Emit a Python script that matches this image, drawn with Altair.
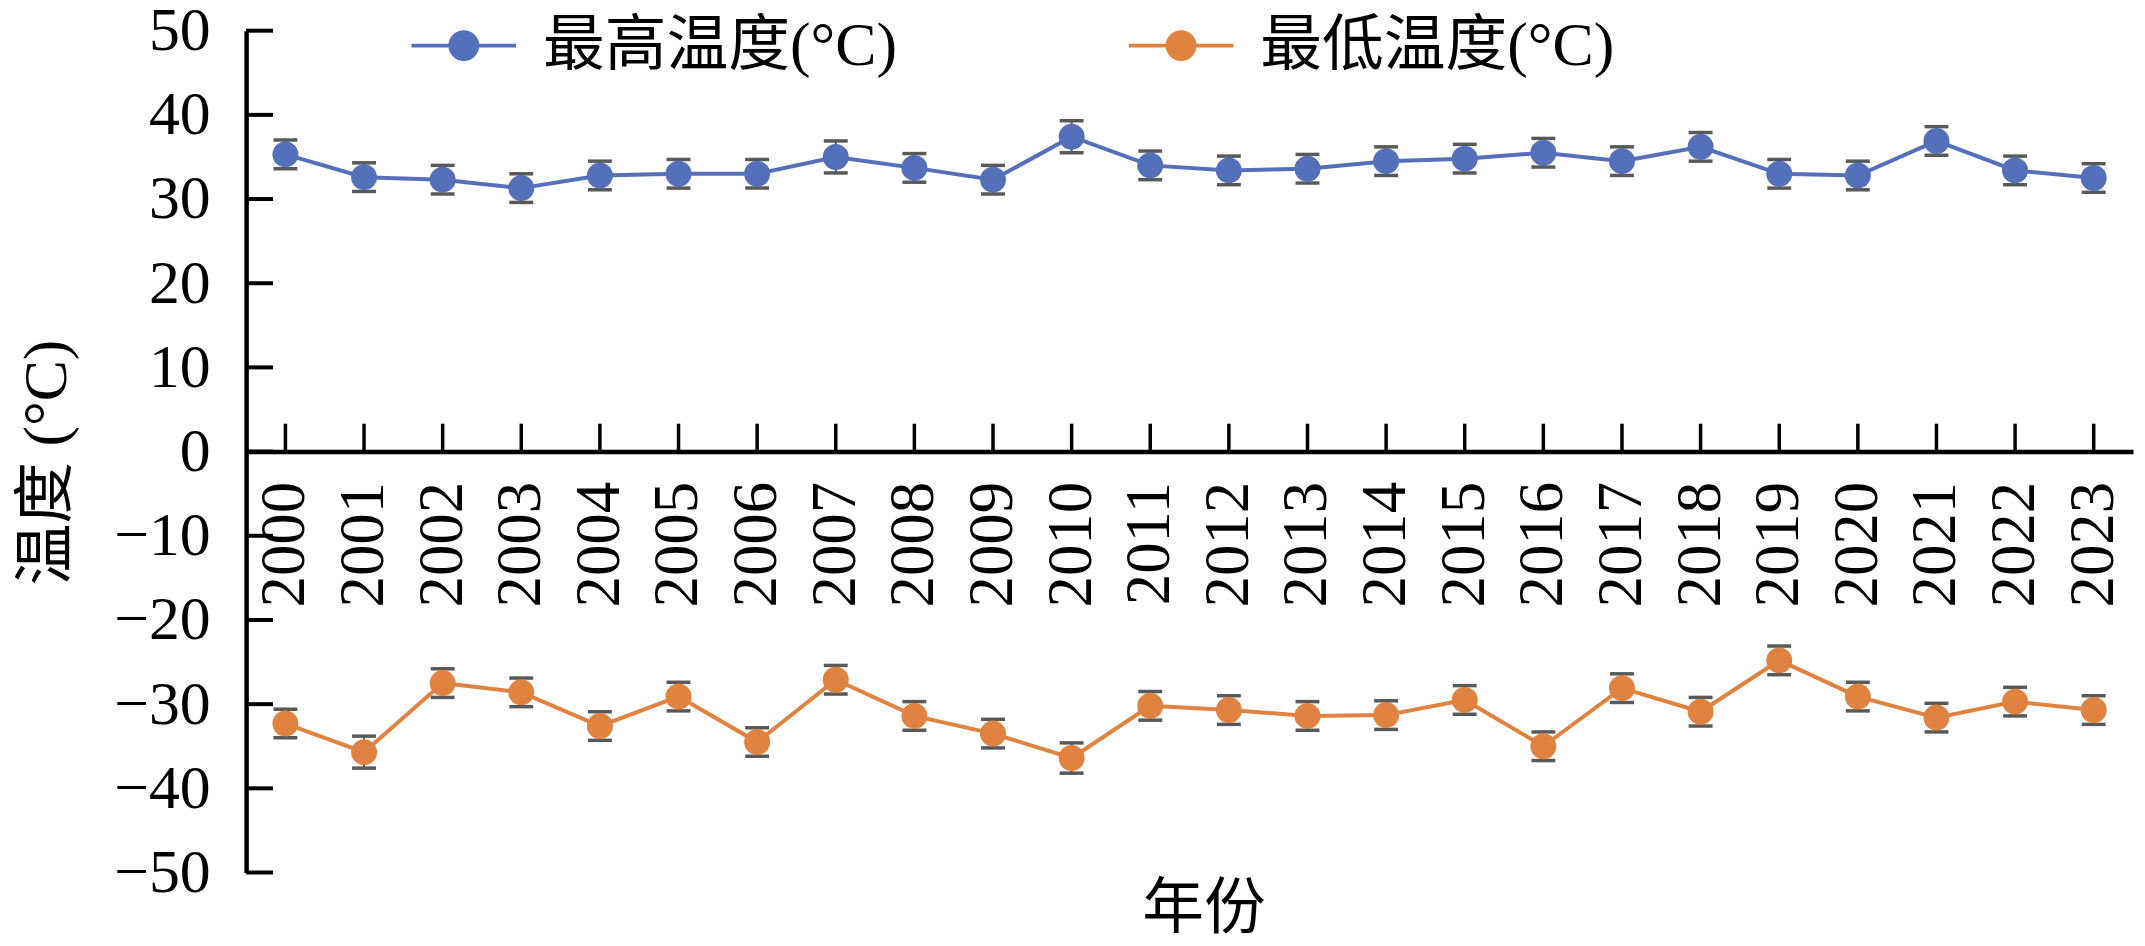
import altair as alt
import pandas as pd

# ---------------- data ----------------
years = ["2000", "2001", "2002", "2003", "2004", "2005", "2006", "2007",
         "2008", "2009", "2010", "2011", "2012", "2013", "2014", "2015",
         "2016", "2017", "2018", "2019", "2020", "2021", "2022", "2023"]

high_temp = [35.3, 32.6, 32.3, 31.3, 32.8, 33.0, 33.0, 35.0, 33.7, 32.3, 37.4, 34.0,
             33.4, 33.6, 34.5, 34.8, 35.5, 34.5, 36.2, 33.0, 32.8, 36.9, 33.4, 32.5]
high_err = [1.7, 1.7, 1.7, 1.7, 1.7, 1.7, 1.7, 1.9, 1.7, 1.7, 1.9, 1.7,
            1.7, 1.7, 1.7, 1.7, 1.7, 1.7, 1.7, 1.7, 1.7, 1.7, 1.7, 1.7]

low_temp = [-32.3, -35.7, -27.5, -28.6, -32.6, -29.1, -34.5, -27.1, -31.4, -33.5, -36.4, -30.2,
            -30.7, -31.4, -31.3, -29.5, -35.0, -28.1, -30.9, -24.8, -29.1, -31.6, -29.7, -30.7]
low_err = [1.7, 1.9, 1.7, 1.7, 1.7, 1.7, 1.7, 1.7, 1.7, 1.7, 1.8, 1.7,
           1.7, 1.7, 1.7, 1.7, 1.7, 1.7, 1.7, 1.7, 1.7, 1.7, 1.7, 1.7]

series_names = ["最高温度(°C)", "最低温度(°C)"]
series_colors = ["#5470BA", "#E08240"]
y_tick_values = [-50, -40, -30, -20, -10, 0, 10, 20, 30, 40, 50]

x_title = "年份"
y_title = "温度 (°C)"

rows = []
for name, vals, errs in zip(series_names, [high_temp, low_temp], [high_err, low_err]):
    for yr, v, e in zip(years, vals, errs):
        rows.append({"year": yr, "series": name, "value": v, "lo": v - e, "hi": v + e})
df = pd.DataFrame(rows)
year_df = pd.DataFrame({"year": years})
tick_df = pd.DataFrame({"t": y_tick_values})

# ---------------- style ----------------
FONT = "Liberation Serif, Noto Sans CJK SC"
W, H = 1894, 845

x_scale = alt.Scale(domain=years)
y_scale = alt.Scale(domain=[-50, 50], nice=False, zero=False)
color_scale = alt.Scale(domain=series_names, range=series_colors)

x_axis = alt.Axis(
    title=x_title, orient="bottom", offset=-H / 2,
    domainColor="black", domainWidth=4.5, ticks=False, tickSize=0,
    labelAngle=270, labelAlign="right", labelBaseline="middle",
    labelPadding=30, labelFont=FONT, labelFontSize=63, labelColor="black",
    titleFont=FONT, titleFontSize=62, titleFontWeight="normal", titleColor="black",
    titleX=961, titleY=459, titleAlign="center", titleBaseline="middle",
    grid=False,
)
y_axis = alt.Axis(
    title=y_title, values=y_tick_values, format="d",
    domainColor="black", domainWidth=4.5, ticks=False, tickSize=0,
    labelPadding=36, labelFont=FONT, labelFontSize=62, labelColor="black",
    titleFont=FONT, titleFontSize=62, titleFontWeight="normal", titleColor="black",
    titleX=-200, titleY=433, titleAngle=270, titleAlign="center", titleBaseline="middle",
    grid=False,
)

# legend glyph: a line with a dot in its middle (unit = 15 px)
legend_symbol = ("M-1,0L6,0M1.6,0A0.9,0.9,0,1,1,3.4,0"
                 "A0.9,0.9,0,1,1,1.6,0Z")
legend = alt.Legend(
    title=None, orient="none", direction="horizontal",
    legendX=150, legendY=-16, padding=0,
    symbolType=legend_symbol, symbolSize=900, symbolStrokeWidth=4,
    symbolOpacity=1,
    labelFont=FONT, labelFontSize=62, labelColor="black", labelOffset=86,
    labelLimit=800, columnPadding=216,
)

base = alt.Chart(df)
xenc = alt.X("year:O", scale=x_scale, axis=x_axis)


def yenc(field):
    return alt.Y(field, scale=y_scale, axis=y_axis)


err_rule = base.mark_rule(color="#595959", strokeWidth=2).encode(
    x=xenc, y=yenc("lo:Q"), y2="hi:Q")
cap_lo = base.mark_tick(color="#595959", size=24, thickness=3.5, orient="horizontal",
                        opacity=1).encode(x=xenc, y=yenc("lo:Q"))
cap_hi = base.mark_tick(color="#595959", size=24, thickness=3.5, orient="horizontal",
                        opacity=1).encode(x=xenc, y=yenc("hi:Q"))

color_enc = alt.Color("series:N", scale=color_scale, legend=legend, sort=series_names)

lines = base.mark_line(strokeWidth=4).encode(
    x=xenc, y=yenc("value:Q"), color=color_enc)
points = base.mark_point(filled=True, size=680, opacity=1).encode(
    x=xenc, y=yenc("value:Q"), color=color_enc)

x_ticks = alt.Chart(year_df).mark_rule(color="black", strokeWidth=3.5, y2Offset=-28).encode(
    x=xenc, y=alt.YDatum(0, scale=y_scale, axis=y_axis), y2=alt.Y2Datum(0))
y_ticks = alt.Chart(tick_df).mark_rule(color="black", strokeWidth=4).encode(
    y=yenc("t:Q"), x=alt.value(0), x2=alt.value(27))

chart = alt.layer(err_rule, cap_lo, cap_hi, lines, points, x_ticks, y_ticks).properties(
    width=W, height=H,
    autosize=alt.AutoSizeParams(type="none"),
    padding={"left": 239, "top": 21, "right": 4, "bottom": 72},
    background="white",
).configure_view(stroke=None)

chart.save("out.html", embed_options={"renderer": "svg", "actions": False})
